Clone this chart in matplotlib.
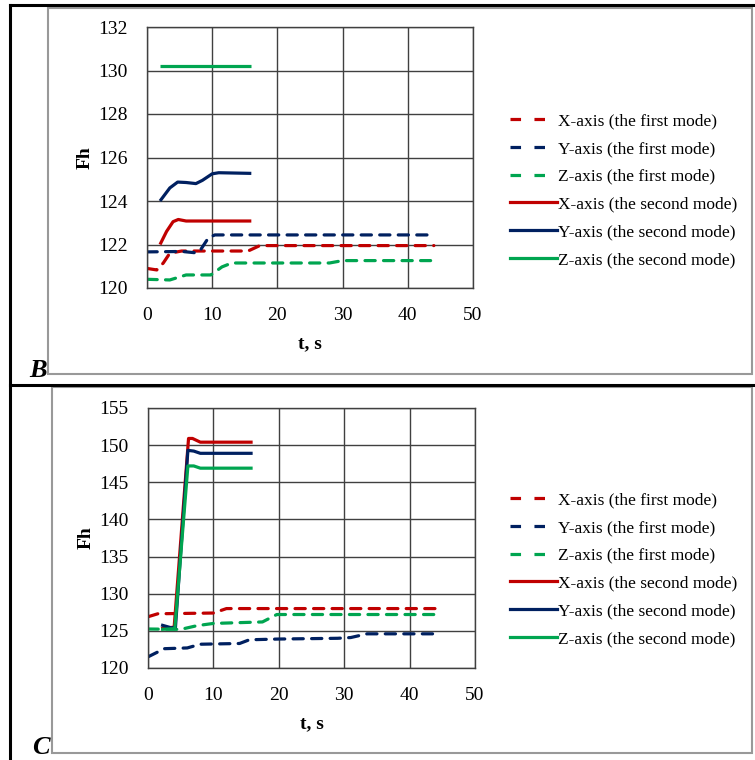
import matplotlib
matplotlib.use("Agg")
import matplotlib.pyplot as plt
from matplotlib.lines import Line2D
from matplotlib.patches import Rectangle

plt.rcParams["font.family"] = ["Liberation Serif", "DejaVu Serif"]

RED = "#C00000"
BLUE = "#002060"
GREEN = "#00A550"

labels = ["X-axis (the first mode)", "Y-axis (the first mode)", "Z-axis (the first mode)",
          "X-axis (the second mode)", "Y-axis (the second mode)", "Z-axis (the second mode)"]

# panel B
b_x1_t = [0, 1.5, 2.5, 3.5, 5.3, 15.5, 17.3, 44]
b_x1 = [120.9, 120.83, 121.15, 121.6, 121.7, 121.7, 121.95, 121.95]
b_y1_t = [0, 5.4, 7.4, 8.1, 9.4, 10.4, 44]
b_y1 = [121.66, 121.68, 121.62, 121.7, 122.3, 122.44, 122.44]
b_z1_t = [0, 3.5, 6, 9.8, 11.5, 13, 28, 30, 43.5]
b_z1 = [120.4, 120.37, 120.6, 120.6, 120.97, 121.15, 121.15, 121.26, 121.26]
b_x2_t = [2, 3, 4, 4.8, 6, 16]
b_x2 = [122.0, 122.6, 123.05, 123.15, 123.08, 123.08]
b_y2_t = [2, 3.5, 4.7, 6, 7.5, 8.5, 10, 11, 16]
b_y2 = [124.0, 124.6, 124.87, 124.85, 124.8, 124.95, 125.25, 125.3, 125.27]
b_z2_t = [2, 16]
b_z2 = [130.2, 130.2]

# panel C
c_x1_t = [0, 1.5, 10, 12, 44]
c_x1 = [126.9, 127.3, 127.4, 128.0, 128.0]
c_y1_t = [0, 2.5, 6, 8, 14, 15.5, 20, 29, 31, 33.5, 44]
c_y1 = [121.5, 122.6, 122.7, 123.2, 123.3, 123.8, 123.9, 124.0, 124.1, 124.6, 124.6]
c_z1_t = [0, 5, 7.5, 10, 17.5, 19.7, 44]
c_z1 = [125.25, 125.2, 125.7, 126.0, 126.2, 127.2, 127.2]
c_x2_t = [2, 4, 6.2, 6.8, 8, 16]
c_x2 = [125.3, 125.5, 150.9, 150.9, 150.4, 150.4]
c_y2_t = [2, 3.6, 4.2, 6.1, 7, 8, 16]
c_y2 = [125.8, 125.4, 125.5, 149.3, 149.2, 148.9, 148.9]
c_z2_t = [2, 4.1, 6.1, 7, 8, 16]
c_z2 = [125.2, 125.3, 147.2, 147.2, 146.9, 146.9]

W, H = 755, 760
fig = plt.figure(figsize=(W / 100, H / 100), dpi=100)


def fx(px):
    return px / W


def fy(py):
    return 1 - py / H


styles = [(RED, True), (BLUE, True), (GREEN, True), (RED, False), (BLUE, False), (GREEN, False)]


def panel(rect, series, yticks, ylim, leg_y):
    ax = fig.add_axes(rect)
    for (t, v), (c, dashed) in zip(series, styles):
        if dashed:
            ax.plot(t, v, color=c, lw=2.3, dashes=(3.2, 2.6), dash_capstyle="round")
        else:
            ax.plot(t, v, color=c, lw=2.3, solid_capstyle="butt")
    ax.set_xlim(0, 50)
    ax.set_ylim(*ylim)
    ax.set_xticks(range(0, 51, 10))
    ax.set_yticks(yticks)
    ax.grid(True, color="#404040", lw=1)
    ax.set_axisbelow(True)
    for s in ax.spines.values():
        s.set_color("#404040")
        s.set_linewidth(1)
    ax.tick_params(length=0, labelsize=14)
    ax.tick_params(axis="y", pad=14)
    ax.tick_params(axis="x", pad=13.5)
    ax.set_xlabel("t, s", fontsize=14, fontweight="bold", labelpad=8)
    ax.set_ylabel("Fh", fontsize=14, fontweight="bold", labelpad=3)

    # legend handles: dashed shown as two short dashes like the original
    handles = []
    for c, dashed in styles:
        if dashed:
            handles.append(Line2D([], [], color=c, lw=2.3, dashes=(3.3, 4.2), dash_capstyle="butt"))
        else:
            handles.append(Line2D([], [], color=c, lw=2.3))
    ax.legend(handles, labels, loc="center left", bbox_to_anchor=(fx(510), leg_y),
              bbox_transform=fig.transFigure, frameon=False, fontsize=12.5,
              handlelength=2.7, handletextpad=0.05, labelspacing=0.67,
              borderpad=0, borderaxespad=0)
    return ax


panel([fx(147), fy(288), fx(473) - fx(147), fy(27) - fy(288)],
      [(b_x1_t, b_x1), (b_y1_t, b_y1), (b_z1_t, b_z1), (b_x2_t, b_x2), (b_y2_t, b_y2), (b_z2_t, b_z2)],
      range(120, 133, 2), (120, 132), fy(190.5))
panel([fx(148), fy(668), fx(475) - fx(148), fy(408) - fy(668)],
      [(c_x1_t, c_x1), (c_y1_t, c_y1), (c_z1_t, c_z1), (c_x2_t, c_x2), (c_y2_t, c_y2), (c_z2_t, c_z2)],
      range(120, 156, 5), (120, 155), fy(569.5))

# chart frames (gray) and table borders (black)
for x0, y0, x1, y1 in [(48, 8, 752, 374), (52, 387, 752, 753)]:
    fig.patches.append(Rectangle((fx(x0), fy(y1)), fx(x1) - fx(x0), fy(y0) - fy(y1),
                                 transform=fig.transFigure, fill=False, ec="#999999", lw=1.5))
for xs, ys in [([10, 755], [5, 5]), ([10, 755], [385, 385]), ([10, 10], [5, 760])]:
    fig.lines.append(Line2D([fx(x) for x in xs], [fy(y) for y in ys], transform=fig.transFigure,
                            color="black", lw=2.2))

fig.text(fx(38), fy(370), "B", fontsize=19, fontweight="bold", fontstyle="italic", ha="center", va="center")
fig.text(fx(41), fy(747), "C", fontsize=19, fontweight="bold", fontstyle="italic", ha="center", va="center")

fig.savefig("out.png", dpi=100)
